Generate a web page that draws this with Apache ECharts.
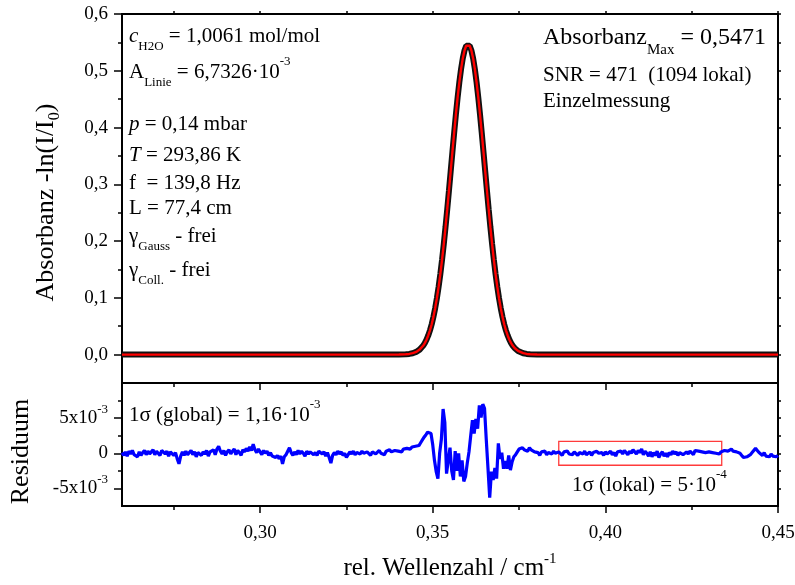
<!DOCTYPE html>
<html>
<head>
<meta charset="utf-8">
<script src="https://cdn.jsdelivr.net/npm/echarts@6/dist/echarts.min.js"></script>
<style>
  html, body { margin: 0; padding: 0; background: #fff; }
  #chart { width: 795px; height: 585px; }
</style>
</head>
<body>
<div id="chart"></div>
<script>
// ---- data ---------------------------------------------------------------
// absorption line: wavenumber (cm^-1) and absorbance -ln(I/I0)
const peakWavenumber = [
  0.26, 0.33, 0.3402, 0.3422, 0.3432, 0.3442,
  0.3452, 0.3457, 0.3462, 0.3467, 0.3472, 0.3477, 0.3482, 0.3487, 0.3492, 0.3497,
  0.3502, 0.3507, 0.3512, 0.3517, 0.3522, 0.3527, 0.3532, 0.3537, 0.3542, 0.3547,
  0.3552, 0.3557, 0.3562, 0.3567, 0.3572, 0.3577, 0.3582, 0.3587, 0.3592, 0.3597,
  0.3602,
  0.3607, 0.3612, 0.3617, 0.3622, 0.3627, 0.3632, 0.3637, 0.3642, 0.3647, 0.3652,
  0.3657, 0.3662, 0.3667, 0.3672, 0.3677, 0.3682, 0.3687, 0.3692, 0.3697, 0.3702,
  0.3707, 0.3712, 0.3717, 0.3722, 0.3727, 0.3732, 0.3737, 0.3742, 0.3747, 0.3752,
  0.3762, 0.3772, 0.3782, 0.3802, 0.39, 0.45
];
const peakAbsorbance = [
  0, 0, 0.0001, 0.0006, 0.0012, 0.0025,
  0.0048, 0.0065, 0.0088, 0.0117, 0.0155, 0.0203, 0.0263, 0.0337, 0.0427, 0.0535,
  0.0665, 0.0816, 0.0992, 0.1193, 0.1419, 0.1671, 0.1947, 0.2245, 0.2561, 0.2891,
  0.3230, 0.3570, 0.3905, 0.4226, 0.4525, 0.4796, 0.5029, 0.5218, 0.5357, 0.5442,
  0.5471,
  0.5442, 0.5357, 0.5218, 0.5029, 0.4796, 0.4525, 0.4226, 0.3905, 0.3570, 0.3230,
  0.2891, 0.2561, 0.2245, 0.1947, 0.1671, 0.1419, 0.1193, 0.0992, 0.0816, 0.0665,
  0.0535, 0.0427, 0.0337, 0.0263, 0.0203, 0.0155, 0.0117, 0.0088, 0.0065, 0.0048,
  0.0025, 0.0012, 0.0006, 0.0001, 0, 0
];

// fit residual, sampled every 0.0005 cm^-1 from 0.26 cm^-1, in units of 1e-3
const residualStart = 0.26;
const residualStep = 0.0005;
const residual = [
  0.1,-0.3,0.2,-0.4,0.3,-0.1,0.4,-0.2,0.0,-0.5,0.2,-0.3,0.1,0.4,-0.2,0.3,-0.1,0.2,0.5,-0.2,
  0.3,0.1,-0.3,0.4,0.2,-0.1,0.3,-0.4,0.2,0.0,-0.3,0.1,-0.8,-1.5,-0.4,0.2,-0.3,0.3,-0.2,0.1,
  0.4,-0.2,0.2,-0.5,0.1,0.3,-0.3,0.2,-0.1,0.4,-0.4,0.2,0.0,0.5,-0.2,0.6,1.0,0.3,-0.1,0.4,
  -0.3,0.2,0.5,-0.1,0.3,0.6,-0.2,0.4,0.1,-0.3,0.5,0.2,0.7,0.3,0.9,0.4,1.3,0.5,0.1,0.6,
  0.2,-0.2,0.4,0.0,0.3,-0.3,0.1,-0.4,-0.2,-0.6,-0.3,-0.8,-0.4,-1.5,-0.5,-0.2,0.3,0.8,0.1,-0.3,
  0.2,-0.2,0.4,-0.1,0.3,0.0,-0.4,0.3,-0.1,0.2,0.4,-0.2,0.1,-0.3,0.3,0.5,-0.1,0.2,-0.4,0.1,
  -0.6,-1.4,-0.3,0.1,-0.2,0.3,-0.1,0.2,-0.3,0.0,-0.6,-0.2,0.2,-0.1,0.3,-0.2,0.1,0.2,-0.1,0.3,
  0.0,-0.2,0.2,0.1,-0.3,0.2,0.3,-0.1,0.1,0.4,0.0,0.2,-0.2,0.3,0.1,0.5,0.2,0.0,0.4,0.3,
  0.3,0.5,0.2,0.6,0.4,0.7,0.5,0.6,0.9,0.7,1.0,0.8,1.1,1.5,1.9,2.3,2.6,3.0,3.2,2.8,
  1.2,-1.0,-2.6,-3.6,0.0,2.0,6.3,4.4,-2.9,-1.0,0.8,-2.5,-3.8,0.3,-2.5,0.0,-3.3,-1.0,-4.0,-3.3,
  -1.4,0.2,2.5,4.7,2.8,4.9,3.5,6.8,5.1,7.0,6.4,2.0,-2.1,-6.3,-2.6,-3.8,-2.1,-3.6,1.4,-0.8,
  0.1,-2.2,-1.1,-2.2,-0.3,-2.4,-1.2,-0.5,-0.2,0.2,0.6,0.4,0.8,0.5,0.7,0.3,0.8,0.5,0.6,0.2,
  0.4,0.1,-0.3,0.2,0.0,0.3,-0.2,0.1,0.2,-0.1,0.3,0.0,-0.2,0.2,0.1,-0.3,0.2,0.0,0.3,-0.1,
  0.1,-0.2,0.2,0.0,-0.3,0.1,0.2,-0.1,0.3,-0.2,0.0,0.2,-0.3,0.1,-0.1,0.3,0.0,-0.2,0.1,-0.3,
  0.2,-0.1,0.0,0.3,-0.2,0.1,-0.4,0.2,0.0,0.3,-0.1,0.4,0.1,-0.2,0.3,0.0,0.5,0.2,-0.1,0.4,
  0.1,0.6,-0.2,0.3,0.0,-0.4,0.2,-0.5,0.1,-0.3,0.3,-0.6,-0.1,0.2,-0.4,0.0,-0.5,0.1,-0.2,0.3,
  -0.1,0.2,-0.3,0.1,0.3,-0.2,0.0,0.2,-0.1,0.3,0.1,-0.2,0.4,0.2,0.3,0.5,0.2,0.4,0.1,0.3,
  0.2,0.4,0.1,0.3,0.0,0.2,-0.1,0.2,0.3,0.4,0.5,0.3,0.4,0.6,0.3,0.4,0.2,0.3,0.0,-0.3,
  -0.6,-0.7,-0.5,-0.6,-0.2,0.1,0.3,0.7,0.4,0.1,-0.1,-0.3,0.1,-0.4,-0.2,-0.5,-0.1,-0.4,-0.2,-0.5,
  -0.3
];

// window used for the local noise estimate (wavenumber range, residual range in 1e-3)
const localWindow = { from: 0.3865, to: 0.4337, low: -1.7, high: 1.7 };

// axis ranges and ticks
const xRange = [0.26, 0.45];
const xMajorTicks = [0.30, 0.35, 0.40, 0.45];
const xMinorTicks = [0.275, 0.325, 0.375, 0.425];
const absRange = [-0.05, 0.6];
const absMajorTicks = [0, 0.1, 0.2, 0.3, 0.4, 0.5, 0.6];
const absMinorTicks = [0.05, 0.15, 0.25, 0.35, 0.45, 0.55];
const resRange = [-7.5, 10];
const resMajorTicks = [-5, 0, 5];
const resMinorTicks = [-2.5, 2.5, 7.5];

// ---- styling helpers ------------------------------------------------------
const FONT = '"Liberation Serif", "Times New Roman", serif';
const AXIS_LINE = { color: '#000', width: 2 };
const TICK_LINE = { color: '#000', width: 1.5 };

function axis(extra) {
  return Object.assign({
    type: 'value',
    splitLine: { show: false },
    minorTick: { show: false },
    axisLine: { show: true, onZero: false, lineStyle: AXIS_LINE },
    axisLabel: { show: false },
    axisPointer: { show: false }
  }, extra);
}
function ticks(values, length) {
  return { show: true, inside: false, length: length, customValues: values, lineStyle: TICK_LINE };
}

const absPairs = peakWavenumber.map((x, i) => [x, peakAbsorbance[i]]);
const resPairs = residual.map((r, i) => [residualStart + i * residualStep, r]);

const noteRich = {
  i:  { fontFamily: FONT, fontSize: 21, fontStyle: 'italic', lineHeight: 34 },
  sb: { fontFamily: FONT, fontSize: 13, lineHeight: 13, verticalAlign: 'bottom' },
  sp: { fontFamily: FONT, fontSize: 13, lineHeight: 20, verticalAlign: 'top' },
  sbL:{ fontFamily: FONT, fontSize: 15, lineHeight: 15, verticalAlign: 'bottom' }
};
function note(x, y, text, size, lh) {
  return {
    type: 'text', x: x, y: y, silent: true, z: 100,
    style: {
      text: text, fill: '#000', fontFamily: FONT, fontSize: size || 21,
      lineHeight: lh || 34, align: 'left', verticalAlign: 'middle',
      textAlign: 'left', textVerticalAlign: 'middle', rich: noteRich
    }
  };
}

// ---- chart ----------------------------------------------------------------
const chart = echarts.init(document.getElementById('chart'), null, { renderer: 'canvas' });

const option = {
  animation: false,
  backgroundColor: '#fff',
  grid: [
    { left: 122, top: 14, width: 656, height: 369, containLabel: false, outerBoundsMode: 'none' },
    { left: 122, top: 383, width: 656, height: 123, containLabel: false, outerBoundsMode: 'none' }
  ],
  xAxis: [
    axis({ gridIndex: 0, position: 'bottom', min: xRange[0], max: xRange[1], axisTick: ticks(xMajorTicks, 7) }),
    axis({ gridIndex: 0, position: 'bottom', min: xRange[0], max: xRange[1], axisTick: ticks(xMinorTicks, 4) }),
    axis({ gridIndex: 0, position: 'top', min: xRange[0], max: xRange[1], axisTick: ticks(xMajorTicks.concat(xMinorTicks), 3) }),
    axis({
      gridIndex: 1, position: 'bottom', min: xRange[0], max: xRange[1],
      axisTick: ticks(xMajorTicks, 7),
      axisLabel: {
        show: true, customValues: xMajorTicks, margin: 18, color: '#000',
        fontFamily: FONT, fontSize: 19,
        formatter: v => v.toFixed(2).replace('.', ',')
      },
      name: 'rel. Wellenzahl / cm{sp|-1}',
      nameLocation: 'middle', nameGap: 46,
      nameTextStyle: {
        color: '#000', fontFamily: FONT, fontSize: 25, lineHeight: 32,
        rich: { sp: { fontFamily: FONT, fontSize: 15, lineHeight: 18, verticalAlign: 'top' } }
      }
    }),
    axis({ gridIndex: 1, position: 'bottom', min: xRange[0], max: xRange[1], axisTick: ticks(xMinorTicks, 4) }),
    axis({ gridIndex: 1, position: 'top', min: xRange[0], max: xRange[1], axisTick: { show: false } })
  ],
  yAxis: [
    axis({
      gridIndex: 0, position: 'left', min: absRange[0], max: absRange[1],
      axisTick: ticks(absMajorTicks, 8),
      axisLabel: {
        show: true, customValues: absMajorTicks, margin: 14, color: '#000',
        fontFamily: FONT, fontSize: 19,
        formatter: v => v.toFixed(1).replace('.', ',')
      },
      name: 'Absorbanz -ln(I/I{sb|0})',
      nameLocation: 'middle', nameGap: 59,
      nameTextStyle: {
        color: '#000', fontFamily: FONT, fontSize: 26, lineHeight: 34, padding: [0, 8, 0, 0],
        rich: { sb: { fontFamily: FONT, fontSize: 16, lineHeight: 16, verticalAlign: 'bottom' } }
      }
    }),
    axis({ gridIndex: 0, position: 'left', min: absRange[0], max: absRange[1], axisTick: ticks(absMinorTicks, 4) }),
    axis({ gridIndex: 0, position: 'right', min: absRange[0], max: absRange[1], axisTick: ticks(absMajorTicks.concat(absMinorTicks), 3) }),
    axis({
      gridIndex: 1, position: 'left', min: resRange[0], max: resRange[1],
      axisTick: ticks(resMajorTicks, 8),
      axisLabel: {
        show: true, customValues: resMajorTicks, margin: 14, color: '#000',
        fontFamily: FONT, fontSize: 19, lineHeight: 30,
        formatter: v => (v === 0 ? '0' : v + 'x10{sp|-3}'),
        rich: { sp: { fontFamily: FONT, fontSize: 13, lineHeight: 20, verticalAlign: 'top' } }
      },
      name: 'Residuum',
      nameLocation: 'middle', nameGap: 88,
      nameTextStyle: { color: '#000', fontFamily: FONT, fontSize: 26, padding: [0, 14, 0, 0] }
    }),
    axis({ gridIndex: 1, position: 'left', min: resRange[0], max: resRange[1], axisTick: ticks(resMinorTicks, 4) }),
    axis({ gridIndex: 1, position: 'right', min: resRange[0], max: resRange[1], axisTick: ticks(resMajorTicks.concat(resMinorTicks), 3) })
  ],
  series: [
    {
      // measured absorbance (dense data points)
      type: 'line', xAxisIndex: 0, yAxisIndex: 0, data: absPairs,
      showSymbol: false, silent: true, z: 2,
      lineStyle: { color: '#111', width: 6 }
    },
    {
      // Voigt fit
      type: 'line', xAxisIndex: 0, yAxisIndex: 0, data: absPairs,
      showSymbol: false, silent: true, z: 3,
      lineStyle: { color: '#ff0000', width: 2.4 }
    },
    {
      type: 'line', xAxisIndex: 3, yAxisIndex: 3, data: resPairs,
      showSymbol: false, silent: true, z: 3,
      lineStyle: { color: '#0000ff', width: 3.2 },
      markArea: {
        silent: true,
        itemStyle: { color: 'rgba(0,0,0,0)', borderColor: '#ff3b3b', borderWidth: 1.3 },
        data: [[
          { coord: [localWindow.from, localWindow.high] },
          { coord: [localWindow.to, localWindow.low] }
        ]]
      }
    }
  ],
  graphic: [
    note(129, 36, '{i|c}{sb|H2O} = 1,0061 mol/mol'),
    note(129, 72, 'A{sb|Linie} = 6,7326·10{sp|-3}'),
    note(129, 124, '{i|p} = 0,14 mbar'),
    note(129, 155, '{i|T} = 293,86 K'),
    note(129, 183, 'f  = 139,8 Hz'),
    note(129, 208, 'L = 77,4 cm'),
    note(129, 236, 'γ{sb|Gauss} - frei'),
    note(129, 270, 'γ{sb|Coll.} - frei'),
    note(543, 38, 'Absorbanz{sbL|Max} = 0,5471', 24, 40),
    note(543, 75, 'SNR = 471  (1094 lokal)'),
    note(543, 101, 'Einzelmessung'),
    note(129, 415, '1σ (global) = 1,16·10{sp|-3}'),
    note(572, 485, '1σ (lokal) = 5·10{sp|-4}')
  ]
};

chart.setOption(option);
</script>
</body>
</html>
